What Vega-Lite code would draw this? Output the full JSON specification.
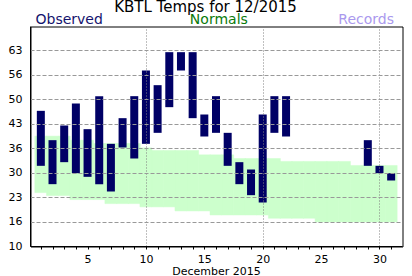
{
  "$schema": "https://vega.github.io/schema/vega-lite/v6.json",
  "autosize": "none",
  "width": 372,
  "height": 220,
  "padding": {"left": 30.5, "top": 26.5, "right": 9.5, "bottom": 29.5},
  "background": "white",
  "title": {
    "text": "KBTL Temps for 12/2015",
    "font": "DejaVu Sans",
    "fontSize": 15,
    "fontWeight": "normal",
    "color": "#000000",
    "anchor": "middle",
    "offset": 0,
    "dy": 2,
    "dx": -11
  },
  "config": {
    "view": {"stroke": "#000000", "strokeWidth": 1},
    "axis": {
      "labelFont": "DejaVu Sans",
      "titleFont": "DejaVu Sans",
      "labelColor": "#000000",
      "titleColor": "#000000",
      "domainColor": "#000000",
      "tickColor": "#000000",
      "titleFontWeight": "normal",
      "translate": 0
    }
  },
  "data": {
    "values": [
      {"day": 1, "nlow": 24.7, "nhigh": 40.1, "low": 32, "high": 47},
      {"day": 2, "nlow": 23.9, "nhigh": 40.1, "low": 27, "high": 39},
      {"day": 3, "nlow": 23.9, "nhigh": 40.1, "low": 33, "high": 43},
      {"day": 4, "nlow": 22.8, "nhigh": 39.0, "low": 30, "high": 49},
      {"day": 5, "nlow": 22.8, "nhigh": 39.0, "low": 29, "high": 42},
      {"day": 6, "nlow": 22.8, "nhigh": 38.1, "low": 27, "high": 51},
      {"day": 7, "nlow": 21.7, "nhigh": 38.1, "low": 25, "high": 38},
      {"day": 8, "nlow": 21.7, "nhigh": 38.1, "low": 37, "high": 45},
      {"day": 9, "nlow": 21.7, "nhigh": 38.1, "low": 34, "high": 51},
      {"day": 10, "nlow": 20.8, "nhigh": 36.9, "low": 38, "high": 58},
      {"day": 11, "nlow": 20.8, "nhigh": 36.2, "low": 41, "high": 54},
      {"day": 12, "nlow": 20.8, "nhigh": 36.2, "low": 48, "high": 63},
      {"day": 13, "nlow": 19.7, "nhigh": 36.2, "low": 58, "high": 63},
      {"day": 14, "nlow": 19.7, "nhigh": 36.2, "low": 45, "high": 63},
      {"day": 15, "nlow": 19.7, "nhigh": 35.0, "low": 40, "high": 46},
      {"day": 16, "nlow": 18.6, "nhigh": 35.0, "low": 41, "high": 51},
      {"day": 17, "nlow": 18.6, "nhigh": 35.0, "low": 32, "high": 41},
      {"day": 18, "nlow": 18.6, "nhigh": 34.0, "low": 27, "high": 33},
      {"day": 19, "nlow": 18.6, "nhigh": 34.0, "low": 24, "high": 31},
      {"day": 20, "nlow": 18.6, "nhigh": 34.0, "low": 22, "high": 46},
      {"day": 21, "nlow": 17.7, "nhigh": 34.0, "low": 41, "high": 51},
      {"day": 22, "nlow": 17.7, "nhigh": 33.2, "low": 40, "high": 51},
      {"day": 23, "nlow": 17.7, "nhigh": 33.2, "low": null, "high": null},
      {"day": 24, "nlow": 17.7, "nhigh": 33.2, "low": null, "high": null},
      {"day": 25, "nlow": 16.7, "nhigh": 33.2, "low": null, "high": null},
      {"day": 26, "nlow": 16.7, "nhigh": 33.2, "low": null, "high": null},
      {"day": 27, "nlow": 16.7, "nhigh": 33.2, "low": null, "high": null},
      {"day": 28, "nlow": 16.7, "nhigh": 32.1, "low": null, "high": null},
      {"day": 29, "nlow": 16.7, "nhigh": 32.1, "low": 32, "high": 39},
      {"day": 30, "nlow": 16.7, "nhigh": 32.1, "low": 30, "high": 32},
      {"day": 31, "nlow": 16.7, "nhigh": 32.1, "low": 28, "high": 30}
    ]
  },
  "resolve": {"axis": {"x": "independent"}},
  "layer": [
    {
      "mark": {"type": "bar", "color": "#ccffcc", "size": 12, "xOffset": -0.5, "stroke": "#ccffcc", "strokeWidth": 0.5},
      "encoding": {
        "x": {
          "field": "day",
          "type": "quantitative",
          "scale": {"domain": [0.5, 31.5], "nice": false, "zero": false},
          "axis": {
            "orient": "bottom",
            "values": [1,2,3,4,5,6,7,8,9,10,11,12,13,14,15,16,17,18,19,20,21,22,23,24,25,26,27,28,29,30,31],
            "labelExpr": "datum.value % 5 === 0 ? datum.label : ''",
            "tickSize": 3,
            "labelPadding": 4,
            "labelFontSize": 11,
            "labelFlush": false,
            "labelOverlap": false,
            "grid": true,
            "gridColor": "#808080",
            "gridDash": [1, 2],
            "gridOpacity": {"condition": {"test": "datum.value % 10 === 0", "value": 1}, "value": 0},
            "title": "December 2015",
            "titleFontSize": 11,
            "titlePadding": 1,
            "zindex": 1
          }
        },
        "y": {
          "field": "nlow",
          "type": "quantitative",
          "scale": {"domain": [10, 70], "nice": false, "zero": false},
          "axis": {
            "values": [10, 16.6667, 23.3333, 30, 36.6667, 43.3333, 50, 56.6667, 63.3333],
            "labelExpr": "'' + floor(datum.value)",
            "ticks": false,
            "tickSize": 0,
            "labelPadding": 8,
            "labelFontSize": 11,
            "grid": true,
            "gridColor": "#999999",
            "gridDash": [4, 2],
            "gridOpacity": {"condition": {"test": "datum.value > 11", "value": 1}, "value": 0},
            "title": null,
            "zindex": 1
          }
        },
        "y2": {"field": "nhigh"}
      }
    },
    {
      "mark": {"type": "bar", "color": "#000066", "size": 8, "xOffset": -0.5},
      "encoding": {
        "x": {
          "field": "day",
          "type": "quantitative",
          "axis": {
            "orient": "top",
            "values": [0.5, 16.2, 31.2],
            "labelExpr": "datum.value < 1 ? 'Observed' : (datum.value < 20 ? 'Normals' : 'Records')",
            "labelColor": {"condition": [{"test": "datum.value < 1", "value": "#14146e"}, {"test": "datum.value < 20", "value": "#0a7a0a"}], "value": "#aa99ee"},
            "labelAlign": {"condition": [{"test": "datum.value < 1", "value": "left"}, {"test": "datum.value > 30", "value": "right"}], "value": "center"},
            "labelBaseline": "alphabetic",
            "labelFontSize": 14,
            "labelPadding": 3,
            "labelFlush": false,
            "labelOverlap": false,
            "labelBound": false,
            "ticks": false,
            "tickSize": 0,
            "domain": false,
            "grid": false,
            "title": null
          }
        },
        "y": {
          "field": "low",
          "type": "quantitative",
          "axis": {
            "values": [10, 16.6667, 23.3333, 30, 36.6667, 43.3333, 50, 56.6667, 63.3333],
            "labelExpr": "'' + floor(datum.value)",
            "ticks": false,
            "tickSize": 0,
            "labelPadding": 8,
            "labelFontSize": 11,
            "grid": true,
            "gridColor": "#999999",
            "gridDash": [4, 2],
            "gridOpacity": {"condition": {"test": "datum.value > 11", "value": 1}, "value": 0},
            "title": null,
            "zindex": 1
          }
        },
        "y2": {"field": "high"}
      }
    }
  ]
}
